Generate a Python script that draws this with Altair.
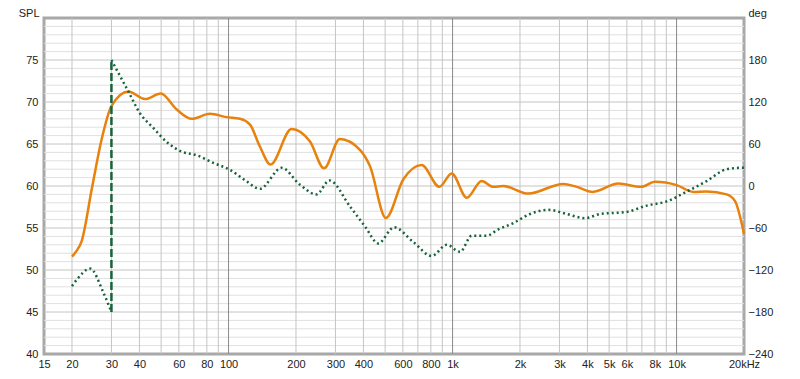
import altair as alt
import pandas as pd

# SPL curve (Hz, dB)
spl_freq = [20, 21, 22.1, 24.5, 27.1, 30, 35.7, 42.4, 49.8, 58.7, 68.5, 82.6, 98, 112.5,
            124.7, 138, 154, 191, 231, 267, 314, 386, 428, 504, 603, 728, 873, 991,
            1157, 1349, 1521, 1684, 2178, 3120, 3582, 4224, 5496, 6939, 8012, 10017,
            11880, 13620, 16740, 18240, 20000]
spl_db = [51.6, 52.3, 53.45, 59.6, 65.5, 69.5, 71.25, 70.35, 71.0, 69.1, 68.0, 68.6, 68.2, 68.0,
          67.3, 64.7, 62.55, 66.8, 65.3, 62.1, 65.6, 64.3, 62.35, 56.2, 60.8, 62.5, 59.9, 61.5,
          58.6, 60.6, 59.9, 60.0, 59.1, 60.25, 59.9, 59.3, 60.3, 59.9, 60.5, 60.1,
          59.3, 59.35, 59.0, 58.2, 54.3]

# Phase curve (Hz, deg), two segments split at the wrap
ph_a_freq = [20, 21.1, 24.1, 27.6, 30]
ph_a_deg = [-143, -133, -118, -152, -180]
ph_b_freq = [30, 35.7, 40.2, 46.1, 53.8, 61.8, 72, 85.5, 101.6, 120, 138, 172.6, 208, 247,
             282, 348, 407, 466, 548, 668, 807, 942, 1080, 1218, 1420, 1600, 1868, 2217,
             2676, 3234, 3902, 4551, 5990, 7359, 9039, 11100, 13620, 16740, 19500, 20000]
ph_b_deg = [180, 135, 104, 83, 61, 49, 44, 33, 23, 7, -4, 26, 2, -12,
            8, -29, -58, -82, -59, -80, -100, -84, -94, -71, -71, -62, -53, -40,
            -34, -40, -46, -40, -37, -28, -22, -8, 7, 24, 26, 26]
wrap_freq = [30, 30]
wrap_deg = [-180, 180]

# Axis ticks / labels
x_tick_vals = [15, 20, 30, 40, 60, 80, 100, 200, 300, 400, 600, 800, 1000, 2000, 3000,
               4000, 5000, 6000, 8000, 10000, 20000]
x_tick_text = ["15", "20", "30", "40", "60", "80", "100", "200", "300", "400", "600", "800",
               "1k", "2k", "3k", "4k", "5k", "6k", "8k", "10k", "20kHz"]
spl_ticks = [40, 45, 50, 55, 60, 65, 70, 75]
deg_ticks = [-240, -180, -120, -60, 0, 60, 120, 180]
grid_minor_x = [20, 30, 40, 50, 60, 70, 80, 90, 200, 300, 400, 500, 600, 700, 800, 900,
                2000, 3000, 4000, 5000, 6000, 7000, 8000, 9000]
grid_decade_x = [100, 1000, 10000]
grid_major_y = [45, 50, 55, 60, 65, 70, 75]
grid_minor_y = [v for v in range(41, 80) if v % 5 != 0]

FONT = "Liberation Sans"
xscale = alt.Scale(type="log", domain=[15, 20000], nice=False)
splscale = alt.Scale(domain=[40, 80], nice=False, zero=False)
degscale = alt.Scale(domain=[-240, 240], nice=False, zero=False)

label_map = "{" + ",".join(f"'{v}':'{t}'" for v, t in zip(x_tick_vals, x_tick_text)) + "}"
xaxis = alt.Axis(
    values=x_tick_vals, labelExpr=f"{label_map}[''+datum.value]",
    grid=False, ticks=False, domain=False, labelOverlap=False, labelFlush=False,
    labelPadding=4, labelFont=FONT, labelFontSize=11, labelColor="#222", title=None)
X = alt.X("f:Q", scale=xscale, axis=xaxis)

spl_df = pd.DataFrame({"f": spl_freq, "v": spl_db})
ph_df = pd.DataFrame({
    "f": ph_a_freq + ph_b_freq,
    "d": ph_a_deg + ph_b_deg,
    "seg": ["a"] * len(ph_a_freq) + ["b"] * len(ph_b_freq),
})
wrap_df = pd.DataFrame({"f": wrap_freq, "d": wrap_deg})

gv_minor = alt.Chart(pd.DataFrame({"f": grid_minor_x})).mark_rule(
    color="#c4c4c4", strokeWidth=1).encode(x=X)
gv_dec = alt.Chart(pd.DataFrame({"f": grid_decade_x})).mark_rule(
    color="#8a8a8a", strokeWidth=1).encode(x=X)
gh_minor = alt.Chart(pd.DataFrame({"v": grid_minor_y})).mark_rule(
    color="#e0e0e0", strokeWidth=1).encode(y=alt.Y("v:Q", scale=splscale, axis=None))
gh_major = alt.Chart(pd.DataFrame({"v": grid_major_y})).mark_rule(
    color="#c4c4c4", strokeWidth=1).encode(y=alt.Y("v:Q", scale=splscale, axis=None))

spl_line = alt.Chart(spl_df).mark_line(
    color="#e8820e", strokeWidth=2.5, interpolate="monotone").encode(
    x=X,
    y=alt.Y("v:Q", scale=splscale, axis=alt.Axis(
        orient="left", values=spl_ticks, grid=False, ticks=False, domain=False,
        labelPadding=6, labelFont=FONT, labelFontSize=11, labelColor="#222",
        title="SPL", titleAngle=0, titleAlign="right", titleBaseline="alphabetic",
        titleX=-5, titleY=-2, titleFont=FONT, titleFontSize=11,
        titleFontWeight="normal", titleColor="#222")),
)

ph_line = alt.Chart(ph_df).mark_line(
    color="#17633a", strokeWidth=2.5, strokeDash=[2, 3], interpolate="monotone").encode(
    x=X,
    y=alt.Y("d:Q", scale=degscale, axis=alt.Axis(
        orient="right", values=deg_ticks, grid=False, ticks=False, domain=False,
        labelPadding=4, labelFont=FONT, labelFontSize=11, labelColor="#222",
        title="deg", titleAngle=0, titleAlign="left", titleBaseline="alphabetic",
        titleX=4, titleY=-2, titleFont=FONT, titleFontSize=11,
        titleFontWeight="normal", titleColor="#222")),
    detail="seg:N",
)

wrap_line = alt.Chart(wrap_df).mark_line(
    color="#17633a", strokeWidth=2.5, strokeDash=[8, 3]).encode(
    x=X,
    y=alt.Y("d:Q", scale=degscale, axis=None),
)

chart = alt.layer(
    gh_minor, gh_major, gv_minor, gv_dec, spl_line, ph_line, wrap_line
).resolve_scale(y="independent").properties(
    width=700, height=336,
    autosize=alt.AutoSizeParams(type="none"),
    padding={"left": 36, "top": 10, "right": 48, "bottom": 17},
    background="white",
).configure_view(stroke="#a8a8a8", strokeWidth=3)

chart.save("out.html", embed_options={"renderer": "svg", "actions": False})
